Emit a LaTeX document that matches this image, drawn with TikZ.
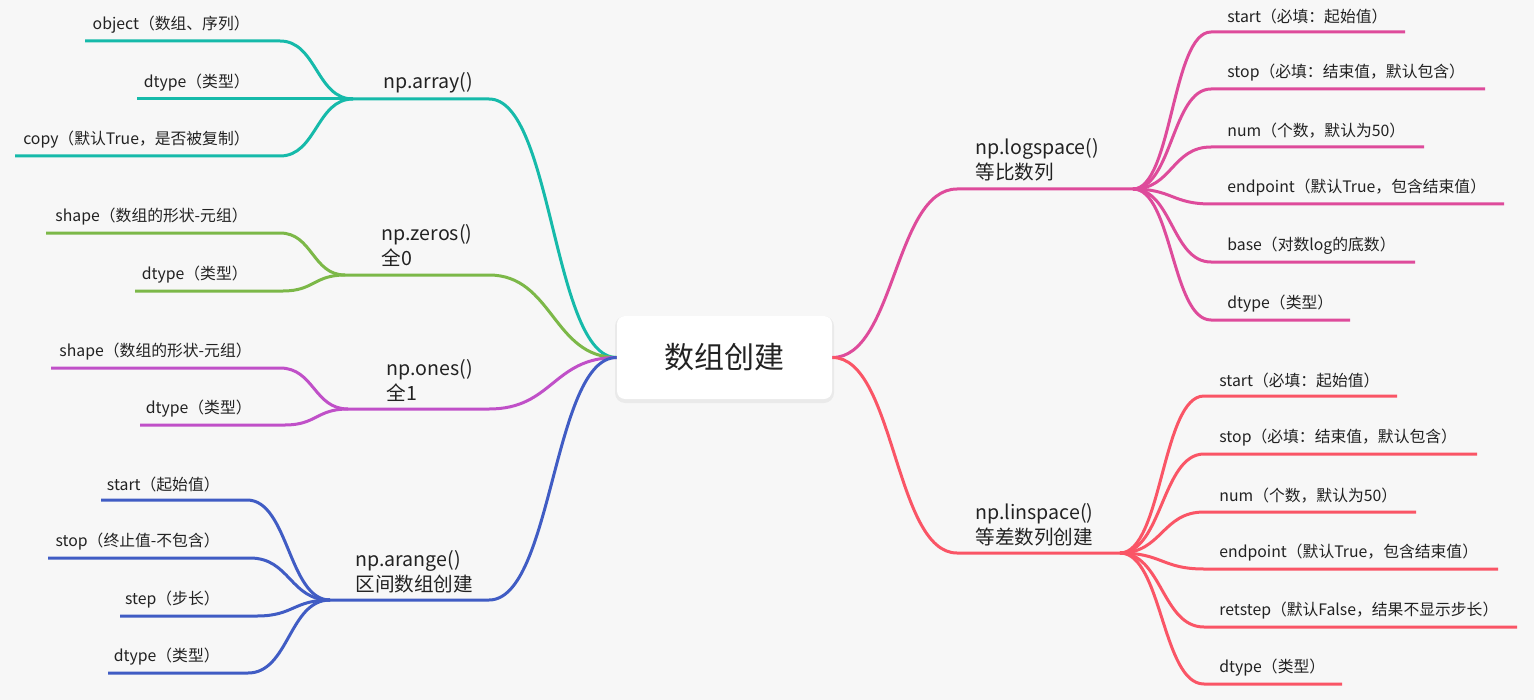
\documentclass[tikz,border=0pt]{standalone}
\usepackage{fontspec}
\setmainfont{Noto Sans CJK SC}
\usetikzlibrary{calc}
\definecolor{bgc}{RGB}{247,247,247}
\definecolor{txtc}{RGB}{34,34,34}
\definecolor{cteal}{RGB}{22,186,170}
\definecolor{cgreen}{RGB}{124,184,72}
\definecolor{cpurple}{RGB}{192,80,200}
\definecolor{cblue}{RGB}{64,92,196}
\definecolor{cpink}{RGB}{222,75,155}
\definecolor{cred}{RGB}{250,85,102}
\tikzset{
  mmline/.style={line width=1.5pt, draw=#1},
  mmleaf/.style={inner sep=0pt, font=\fontsize{7.9}{9.5}\selectfont, text=txtc},
  mmparent/.style={inner sep=0pt, font=\fontsize{9.8}{12.5}\selectfont, text=txtc, align=left, anchor=west},
  mmroot/.style={fill=white, rounded corners=4pt, minimum width=107.5pt, minimum height=41.5pt, inner sep=0pt, font=\fontsize{15}{18}\selectfont, text=txtc},
}
% #1 colour, #2 name, #3 junction, #4 bend x, #5 y, #6 line end x, #7 text x, #8 text
\newcommand{\lchild}[8]{%
  \coordinate (#2-b) at (#4,#5);
  \coordinate (#2-s) at (#6,#5);
  \coordinate (#2-m) at ($(#3)!0.5!(#2-b)$);
  \node[mmleaf,anchor=east] (#2) at (#7,#5-16) {#8};
  \draw[mmline=#1] (#3) .. controls (#2-m |- #3) and (#2-m |- #2-b) .. (#2-b) -- (#2-s);
}
\newcommand{\rchild}[8]{%
  \coordinate (#2-b) at (#4,#5);
  \coordinate (#2-s) at (#6,#5);
  \coordinate (#2-m) at ($(#3)!0.5!(#2-b)$);
  \node[mmleaf,anchor=west] (#2) at (#7,#5-16) {#8};
  \draw[mmline=#1] (#3) .. controls (#2-m |- #3) and (#2-m |- #2-b) .. (#2-b) -- (#2-s);
}
% #1 colour, #2 from, #3 bend, #4 junction
\newcommand{\mainbranch}[4]{%
  \coordinate (#3-m) at ($(#2)!0.5!(#3)$);
  \draw[mmline=#1] (#2) .. controls (#3-m |- #2) and (#3-m |- #3) .. (#3) -- (#4);
}
\begin{document}
\begin{tikzpicture}[x=0.5pt,y=-0.5pt]
\fill[bgc] (0,0) rectangle (1534,700);
\useasboundingbox (0,0) rectangle (1534,700);

% root
\fill[black,opacity=0.05,rounded corners=5pt] (615,316) rectangle (834,403);
\node[mmroot] (root) at (724.5,357.5) {数组创建};
\coordinate (cl) at (root.west);
\coordinate (cr) at (root.east);

% ---------- np.array ----------
\coordinate (arr-k) at (489,99);
\coordinate (arr-j) at (353,99);
\node[mmparent] (arr) at (383,83) {np.array()};
\mainbranch{cteal}{cl}{arr-k}{arr-j}
\lchild{cteal}{arr1}{arr-j}{280}{41}{85}{250}{object（数组、序列）}
\lchild{cteal}{arr2}{arr-j}{280}{99}{137}{250}{dtype（类型）}
\lchild{cteal}{arr3}{arr-j}{280}{156}{15}{250}{copy（默认True，是否被复制）}

% ---------- np.zeros ----------
\coordinate (zer-k) at (489,275);
\coordinate (zer-j) at (345,275);
\node[mmparent] (zer) at (381,245.5) {np.zeros()\\全0};
\mainbranch{cgreen}{cl}{zer-k}{zer-j}
\lchild{cgreen}{zer1}{zer-j}{280}{233}{46}{248}{shape（数组的形状-元组）}
\lchild{cgreen}{zer2}{zer-j}{283}{291}{135}{248}{dtype（类型）}

% ---------- np.ones ----------
\coordinate (one-k) at (489,409);
\coordinate (one-j) at (348,409);
\node[mmparent] (one) at (386,380) {np.ones()\\全1};
\mainbranch{cpurple}{cl}{one-k}{one-j}
\lchild{cpurple}{one1}{one-j}{280}{368}{51}{252}{shape（数组的形状-元组）}
\lchild{cpurple}{one2}{one-j}{285}{425}{140}{252}{dtype（类型）}

% ---------- np.arange ----------
\coordinate (ara-k) at (489,600);
\coordinate (ara-j) at (330,600);
\node[mmparent] (ara) at (355,571.5) {np.arange()\\区间数组创建};
\mainbranch{cblue}{cl}{ara-k}{ara-j}
\lchild{cblue}{ara1}{ara-j}{247}{500}{101}{220}{start（起始值）}
\lchild{cblue}{ara2}{ara-j}{250}{558}{48}{220}{stop（终止值-不包含）}
\lchild{cblue}{ara3}{ara-j}{257}{616}{120}{220}{step（步长）}
\lchild{cblue}{ara4}{ara-j}{248}{673}{108}{220}{dtype（类型）}

% ---------- np.logspace ----------
\coordinate (log-k) at (957,189);
\coordinate (log-j) at (1133,189);
\node[mmparent] (log) at (975,159.5) {np.logspace()\\等比数列};
\mainbranch{cpink}{cr}{log-k}{log-j}
\rchild{cpink}{log1}{log-j}{1211}{32}{1405}{1227}{start（必填：起始值）}
\rchild{cpink}{log2}{log-j}{1211}{89}{1485}{1227}{stop（必填：结束值，默认包含）}
\rchild{cpink}{log3}{log-j}{1211}{147}{1424}{1227}{num（个数，默认为50）}
\rchild{cpink}{log4}{log-j}{1211}{204}{1504}{1227}{endpoint（默认True，包含结束值）}
\rchild{cpink}{log5}{log-j}{1211}{262}{1415}{1227}{base（对数log的底数）}
\rchild{cpink}{log6}{log-j}{1211}{320}{1350}{1227}{dtype（类型）}

% ---------- np.linspace ----------
\coordinate (lin-k) at (957,553);
\coordinate (lin-j) at (1120,553);
\node[mmparent] (lin) at (975,524.5) {np.linspace()\\等差数列创建};
\mainbranch{cred}{cr}{lin-k}{lin-j}
\rchild{cred}{lin1}{lin-j}{1204}{396}{1397}{1219}{start（必填：起始值）}
\rchild{cred}{lin2}{lin-j}{1204}{454}{1477}{1219}{stop（必填：结束值，默认包含）}
\rchild{cred}{lin3}{lin-j}{1204}{512}{1416}{1219}{num（个数，默认为50）}
\rchild{cred}{lin4}{lin-j}{1204}{569}{1498}{1219}{endpoint（默认True，包含结束值）}
\rchild{cred}{lin5}{lin-j}{1204}{627}{1517}{1219}{retstep（默认False，结果不显示步长）}
\rchild{cred}{lin6}{lin-j}{1204}{684}{1342}{1219}{dtype（类型）}
\end{tikzpicture}
\end{document}
